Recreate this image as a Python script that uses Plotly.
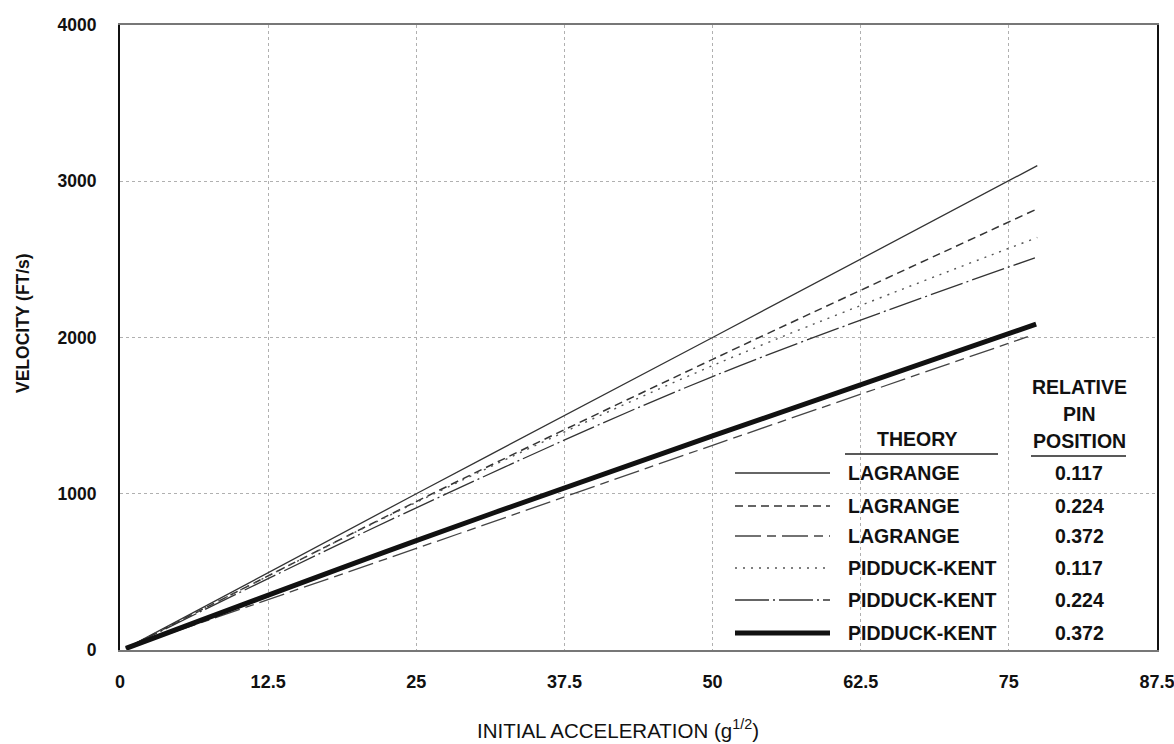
import plotly.graph_objects as go

# ---- data ----
theories = ["LAGRANGE", "LAGRANGE", "LAGRANGE", "PIDDUCK-KENT", "PIDDUCK-KENT", "PIDDUCK-KENT"]
pin_positions = ["0.117", "0.224", "0.372", "0.117", "0.224", "0.372"]

# initial acceleration values where curves were read, plus the end point of each curve
accel_read = [0.5, 25, 50]
accel_end = [77.4, 77.3, 76.6, 77.4, 77.2, 77.3]

vel_lagrange_0117 = [10, 1000, 2000, 3100]
vel_lagrange_0224 = [10, 950, 1860, 2820]
vel_lagrange_0372 = [10, 650, 1310, 2005]
vel_pidduck_0117 = [10, 945, 1820, 2640]
vel_pidduck_0224 = [10, 910, 1750, 2510]
vel_pidduck_0372 = [10, 700, 1370, 2085]
velocities = [vel_lagrange_0117, vel_lagrange_0224, vel_lagrange_0372,
              vel_pidduck_0117, vel_pidduck_0224, vel_pidduck_0372]

x_ticks = [0, 12.5, 25, 37.5, 50, 62.5, 75, 87.5]
x_tick_labels = ["0", "12.5", "25", "37.5", "50", "62.5", "75", "87.5"]
y_ticks = [0, 1000, 2000, 3000, 4000]
y_tick_labels = ["0", "1000", "2000", "3000", "4000"]

# ---- styles ----
dashes = ["solid", "8px,5px", "26px,6px,9px,6px", "2px,6px", "34px,4px,2px,4px", "solid"]
widths = [1.3, 1.5, 1.3, 1.4, 1.3, 5]
colors = ["#333", "#333", "#444", "#555", "#333", "#111"]

FONT = "Liberation Sans"
TXT = "#111"
LEG_SIZE = 19.5

fig = go.Figure()
for i in range(len(theories)):
    fig.add_trace(go.Scatter(
        x=accel_read + [accel_end[i]], y=velocities[i],
        mode="lines", showlegend=False,
        line=dict(color=colors[i], width=widths[i], dash=dashes[i], shape="spline", smoothing=1.0),
        name=f"{theories[i]} {pin_positions[i]}",
    ))

# page geometry: body margin removed so the figure fills the window exactly
W, H = 1174, 744
PL, PR, PT, PB = 120, 1157, 25, 650
pw, ph = PR - PL, PB - PT


def px(x):
    return (x - PL) / pw


def py(y):
    return (PB - y) / ph


row_y = [473, 506, 536, 568, 600, 633]
shapes = []
annotations = []
for i, ry in enumerate(row_y):
    shapes.append(dict(type="line", xref="paper", yref="paper",
                       x0=px(735), x1=px(830), y0=py(ry), y1=py(ry),
                       line=dict(color=colors[i], width=widths[i], dash=dashes[i])))
    annotations.append(dict(xref="paper", yref="paper", x=px(846), y=py(ry),
                            text="<b>" + theories[i] + "</b>", showarrow=False,
                            xanchor="left", yanchor="middle",
                            font=dict(family=FONT, size=LEG_SIZE, color=TXT)))
    annotations.append(dict(xref="paper", yref="paper", x=px(1079), y=py(ry),
                            text="<b>" + pin_positions[i] + "</b>", showarrow=False,
                            xanchor="center", yanchor="middle",
                            font=dict(family=FONT, size=LEG_SIZE, color=TXT)))

annotations.append(dict(xref="paper", yref="paper", x=px(917), y=py(439),
                        text="<b>THEORY</b>", showarrow=False, xanchor="center", yanchor="middle",
                        font=dict(family=FONT, size=LEG_SIZE, color=TXT)))
for t, yy in zip(["RELATIVE", "PIN", "POSITION"], [387, 414, 441]):
    annotations.append(dict(xref="paper", yref="paper", x=px(1079), y=py(yy),
                            text="<b>" + t + "</b>", showarrow=False, xanchor="center", yanchor="middle",
                            font=dict(family=FONT, size=LEG_SIZE, color=TXT)))
shapes.append(dict(type="line", xref="paper", yref="paper", x0=px(845), x1=px(998),
                   y0=py(454), y1=py(454), line=dict(color="#222", width=1.5)))
shapes.append(dict(type="line", xref="paper", yref="paper", x0=px(1031), x1=px(1126),
                   y0=py(456), y1=py(456), line=dict(color="#222", width=1.5)))

# axis titles placed as in the reference
annotations.append(dict(xref="paper", yref="paper", x=px(618), y=py(729),
                        text="INITIAL ACCELERATION (g<sup>1/2</sup>)", showarrow=False,
                        xanchor="center", yanchor="middle",
                        font=dict(family=FONT, size=20.5, color=TXT)))
annotations.append(dict(xref="paper", yref="paper", x=px(23), y=py(323),
                        text="<b>VELOCITY (FT/s)</b>", showarrow=False, textangle=-90,
                        xanchor="center", yanchor="middle",
                        font=dict(family=FONT, size=17.5, color=TXT)))

fig.update_layout(
    width=W, height=H,
    margin=dict(l=PL, r=W - PR, t=PT, b=H - PB),
    paper_bgcolor="white", plot_bgcolor="white",
    font=dict(family=FONT, size=17, color=TXT),
    shapes=shapes, annotations=annotations,
    xaxis=dict(
        range=[0, 87.5], tickvals=x_ticks, ticktext=["<b>" + t + "</b>" for t in x_tick_labels],
        showgrid=True, gridcolor="#b0b0b0", griddash="dot", gridwidth=1,
        zeroline=False, showline=True, linecolor="#777", linewidth=2, mirror=True,
        ticks="", ticklabelstandoff=14, ticklabeloverflow="allow", automargin=False,
        tickfont=dict(family=FONT, size=18, color=TXT),
    ),
    yaxis=dict(
        range=[0, 4000], tickvals=y_ticks, ticktext=["<b>" + t + "</b>" for t in y_tick_labels],
        showgrid=True, gridcolor="#b0b0b0", griddash="dot", gridwidth=1,
        zeroline=False, showline=True, linecolor="#111", linewidth=2, mirror=True,
        ticks="", ticklabelstandoff=18, ticklabeloverflow="allow", automargin=False,
        tickfont=dict(family=FONT, size=17.5, color=TXT),
    ),
)

fig.write_html(
    "out.html",
    config={"displayModeBar": False},
    post_script="document.body.style.margin='0';document.body.style.overflow='hidden';",
)
